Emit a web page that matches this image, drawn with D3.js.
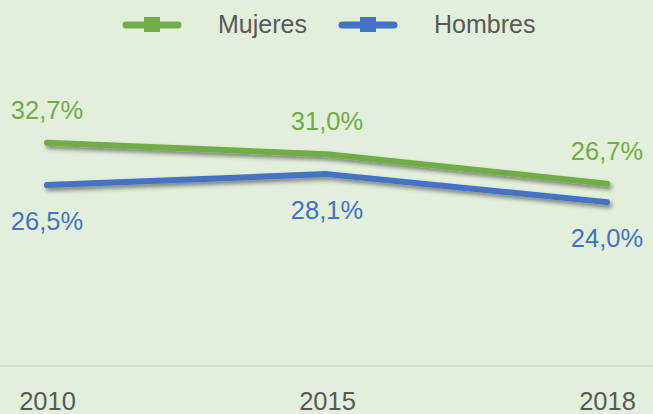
<!DOCTYPE html>
<html>
<head>
<meta charset="utf-8">
<script src="https://cdn.jsdelivr.net/npm/d3@7"></script>
<style>
  html, body { margin: 0; padding: 0; background: #e2efda; }
  svg { display: block; font-family: "Liberation Sans", Arial, sans-serif; }
</style>
</head>
<body>
<div id="chart"></div>
<script>
// data
const years = ['2010', '2015', '2018'];
const mujeres = [32.7, 31.0, 26.7];
const hombres = [26.5, 28.1, 24.0];
const seriesNames = ['Mujeres', 'Hombres'];
const seriesColors = ['#70ad47', '#4472c4'];

const width = 653, height = 414;

const svg = d3.select('#chart')
  .append('svg')
  .attr('width', width)
  .attr('height', height);

svg.append('rect')
  .attr('width', width)
  .attr('height', height)
  .attr('fill', '#e2efda');

// soft shadow under the lines
const defs = svg.append('defs');
const filter = defs.append('filter')
  .attr('id', 'shadow')
  .attr('x', '-10%').attr('y', '-50%')
  .attr('width', '120%').attr('height', '200%');
filter.append('feDropShadow')
  .attr('dx', 2)
  .attr('dy', 3)
  .attr('stdDeviation', 2)
  .attr('flood-color', '#000')
  .attr('flood-opacity', 0.45);

const x = d3.scalePoint()
  .domain(years)
  .range([47, 607]);

const y = d3.scaleLinear()
  .domain([0, 35])
  .range([366, 127]);

// axis line
const xAxis = d3.axisBottom(x).tickSize(0).tickPadding(26);
const axisG = svg.append('g')
  .attr('transform', `translate(0,${y(0)})`)
  .call(xAxis);
axisG.select('.domain').remove();
axisG.append('line')
  .attr('x1', 0).attr('x2', width)
  .attr('stroke', '#d9d9d9')
  .attr('stroke-width', 2);
axisG.selectAll('.tick text')
  .attr('fill', '#595959')
  .style('font-size', '25.5px')
  .style('font-family', '"Liberation Sans", Arial, sans-serif');

const line = d3.line()
  .x((d, i) => x(years[i]))
  .y(d => y(d));

const allSeries = [mujeres, hombres];

allSeries.forEach((vals, k) => {
  svg.append('path')
    .datum(vals)
    .attr('fill', 'none')
    .attr('stroke', seriesColors[k])
    .attr('stroke-width', 6)
    .attr('stroke-linecap', 'round')
    .attr('stroke-linejoin', 'round')
    .attr('filter', 'url(#shadow)')
    .attr('d', line);
});

// value labels: green above, blue below
allSeries.forEach((vals, k) => {
  svg.selectAll('.lbl' + k)
    .data(vals)
    .enter()
    .append('text')
    .attr('class', 'lbl' + k)
    .attr('x', (d, i) => x(years[i]))
    .attr('y', d => k === 0 ? y(d) - 24 : y(d) + 45)
    .attr('text-anchor', 'middle')
    .attr('fill', seriesColors[k])
    .style('font-size', '25.5px')
    .text(d => d.toFixed(1).replace('.', ',') + '%');
});

// legend
const legendX = [123, 339];
const legend = svg.selectAll('.legend')
  .data(seriesNames)
  .enter()
  .append('g')
  .attr('class', 'legend')
  .attr('transform', (d, i) => `translate(${legendX[i]},25)`);

legend.append('line')
  .attr('x1', 3).attr('x2', 55)
  .attr('stroke', (d, i) => seriesColors[i])
  .attr('stroke-width', 7)
  .attr('stroke-linecap', 'round');

legend.append('rect')
  .attr('x', 21).attr('y', -8)
  .attr('width', 16).attr('height', 15)
  .attr('fill', (d, i) => seriesColors[i]);

legend.append('text')
  .attr('x', 95)
  .attr('y', 8)
  .attr('fill', '#595959')
  .style('font-size', '25px')
  .text(d => d);
</script>
</body>
</html>
